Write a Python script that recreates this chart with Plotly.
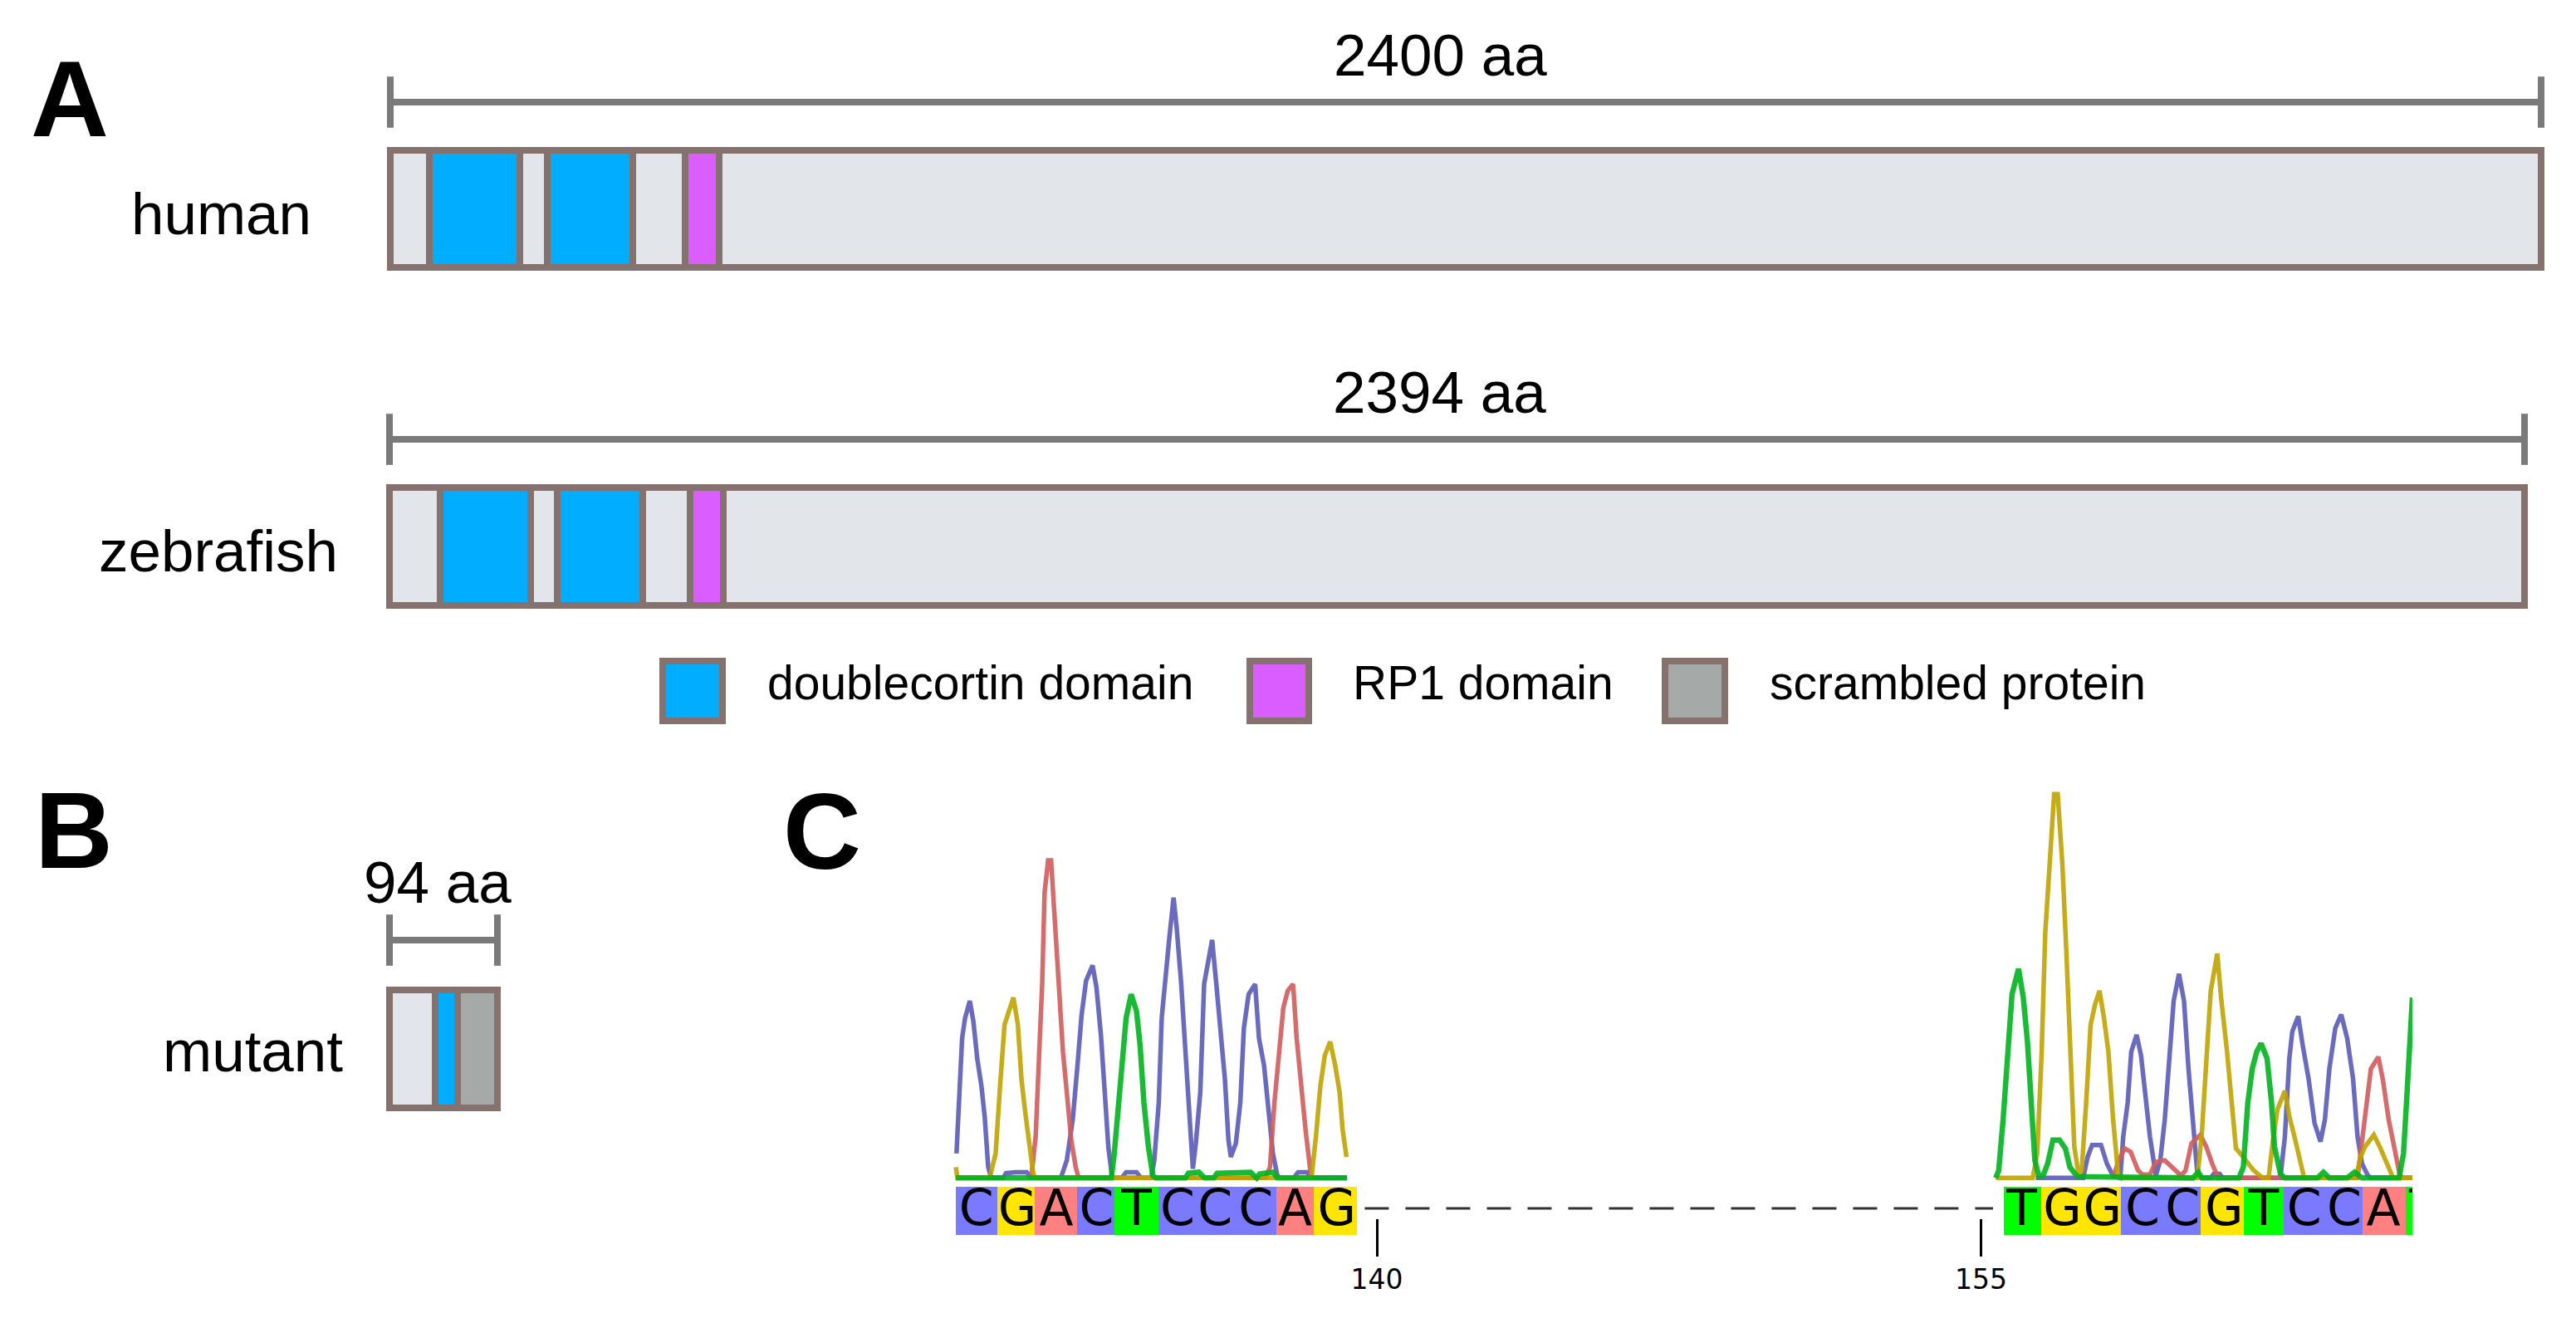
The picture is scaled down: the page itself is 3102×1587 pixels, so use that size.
import plotly.graph_objects as go

W, H = 3102, 1587
PAGE_MARGIN = 8  # browser default body margin
fig_w, fig_h = W - 2 * PAGE_MARGIN, H - 2 * PAGE_MARGIN

# === Protein lengths / domains (aa) ===
human_len = 2400
human_dc_start = [44, 175]
human_dc_end = [145, 271]
human_rp1 = [329, 367]

zebrafish_len = 2394
zebrafish_dc_start = [57, 188]
zebrafish_dc_end = [158, 284]
zebrafish_rp1 = [337, 374]

mutant_len = 94
mutant_dc = [40, 59]
mutant_scrambled = [59, 94]

legend_labels = ['doublecortin domain', 'RP1 domain', 'scrambled protein']

# === Chromatogram, left part (scan, intensity) ===
left_blue_x = [33, 42, 52, 62, 78, 90, 103, 117, 128, 140, 150, 190, 200, 230, 270, 285, 385, 405, 425, 440, 455, 470,
               492, 505, 520, 533, 545, 558, 590, 605, 640, 655, 690, 700, 715, 725, 738, 750, 765, 775, 790, 805, 820,
               830, 840, 855, 868, 880, 895, 908, 922, 938, 950, 958, 975, 990, 1002, 1018, 1040, 1053, 1070, 1085,
               1100, 1115, 1125, 1170, 1185, 1215, 1230, 1350]
left_blue_y = [72, 252, 412, 472, 522, 462, 352, 272, 182, 32, 0, 0, 14, 17, 17, 0, 0, 52, 172, 322, 482, 582,
               627, 562, 422, 252, 92, 0, 0, 17, 17, 0, 0, 52, 222, 472, 612, 702, 827, 742, 582, 372, 122,
               27, 102, 252, 572, 632, 702, 582, 452, 292, 112, 62, 102, 222, 442, 542, 572, 412, 332, 212,
               72, 7, 0, 0, 17, 17, 0, 0]
left_yellow_x = [31, 36, 145, 165, 180, 195, 210, 225, 240, 252, 265, 280, 292, 300, 1230, 1245, 1260, 1275, 1293,
                 1310, 1325, 1335, 1348]
left_yellow_y = [32, 0, 0, 72, 272, 452, 492, 532, 452, 292, 192, 82, 12, 0, 0, 122, 272, 362, 402,
                 332, 252, 142, 62]
left_red_x = [285, 300, 312, 322, 330, 342, 352, 365, 378, 392, 405, 420, 435, 445, 1075, 1090, 1105, 1120, 1135,
              1150, 1168, 1180, 1195, 1210, 1228, 1235]
left_red_y = [0, 122, 372, 572, 842, 937, 937, 752, 552, 372, 252, 112, 32, 0, 0, 32, 222, 372, 502,
              552, 572, 412, 272, 142, 7, 0]
left_green_x = [31, 555, 565, 580, 595, 605, 622, 640, 652, 665, 680, 695, 705, 805, 815, 850, 870, 900, 912, 1025,
                1045, 1055, 1100, 1115, 1350]
left_green_y = [0, 0, 72, 222, 372, 472, 542, 492, 392, 222, 92, 7, 0, 0, 14, 17, 0, 0, 14, 17,
                0, 12, 17, 0, 0]

# === Chromatogram, right part (scan, intensity) ===
right_green_x = [65, 75, 90, 105, 120, 142, 158, 172, 185, 197, 210, 225, 240, 258, 280, 300, 315, 340, 730, 748, 760,
                 885, 900, 915, 930, 945, 960, 980, 995, 1005, 1025, 1040, 1150, 1170, 1190, 1250, 1275, 1300, 1425,
                 1440, 1450, 1460, 1470]
right_green_y = [0, 22, 172, 382, 542, 617, 532, 402, 222, 52, 7, 7, 42, 112, 112, 87, 32, 4, 0, 17, 0,
                 0, 32, 222, 322, 372, 397, 352, 222, 92, 12, 0, 0, 17, 0, 0, 17, 0, 0,
                 72, 222, 372, 532]
right_yellow_x = [65, 190, 205, 220, 232, 245, 262, 274, 290, 303, 318, 330, 345, 355, 370, 385, 400, 415, 430, 445,
                  460, 478, 490, 745, 760, 775, 790, 812, 825, 845, 860, 875, 890, 910, 935, 965, 985, 1000, 1015,
                  1040, 1055, 1075, 1100, 1105, 1280, 1295, 1310, 1340, 1360, 1385, 1405, 1470]
right_yellow_y = [0, 0, 72, 372, 722, 922, 1132, 1132, 922, 672, 322, 92, 7, 22, 222, 452, 512, 552, 472, 372,
                  182, 7, 0, 0, 132, 372, 552, 662, 532, 372, 232, 87, 72, 52, 22, 0, 0, 112, 202,
                  257, 182, 112, 7, 0, 0, 62, 92, 127, 92, 37, 0, 0]
right_blue_x = [200, 360, 375, 390, 420, 440, 460, 485, 495, 510, 522, 540, 555, 570, 585, 605, 620, 635, 650, 665, 683,
                700, 715, 730, 745, 760, 790, 800, 820, 830, 1025, 1040, 1055, 1065, 1085, 1100, 1120, 1140, 1160,
                1175, 1190, 1210, 1230, 1250, 1270, 1285, 1300, 1320, 1330, 1470]
right_blue_y = [0, 0, 62, 97, 97, 42, 7, 0, 122, 222, 372, 422, 362, 242, 122, 7, 52, 172, 372, 522, 602,
                522, 322, 172, 12, 0, 0, 12, 12, 0, 0, 122, 352, 432, 477, 392, 292, 162, 107,
                172, 322, 442, 482, 412, 292, 122, 42, 7, 0, 0]
right_red_x = [460, 480, 500, 520, 545, 560, 585, 605, 635, 660, 690, 705, 725, 755, 775, 795, 815, 1285, 1300, 1315,
               1330, 1355, 1370, 1390, 1410, 1428, 1440, 1470]
right_red_y = [0, 52, 87, 77, 22, 10, 10, 47, 52, 32, 7, 22, 102, 127, 92, 42, 0, 0, 102, 222,
               322, 357, 292, 172, 82, 7, 0, 0]

# === Base calls: tile edges in scan units ===
left_bases = ['C', 'G', 'A', 'C', 'T', 'C', 'C', 'C', 'A', 'G']
left_edges = [31, 171, 297, 440, 566, 715, 847, 978, 1112, 1238, 1382]
left_letter_x = [100, 238, 370, 505, 640, 778, 905, 1042, 1175, 1315]

right_bases = ['T', 'G', 'G', 'C', 'C', 'G', 'T', 'C', 'C', 'A', 'T']
right_edges = [91, 218, 352, 487, 620, 755, 902, 1035, 1170, 1303, 1448, 1580]
right_letter_x = [153, 290, 425, 560, 695, 835, 968, 1105, 1240, 1372, 1510]

# === Sequence positions ===
position_ticks = [140, 155]
deletion_gap = [139.7, 155.3]

# === Colours ===
border = '#85726f'
backbone = '#e2e6ea'
dc_blue = '#00adff'
rp1_pink = '#d95dff'
scrambled_grey = '#a5aaa8'
scale_grey = '#7a7a7a'
base_fill = {'A': '#ff8080', 'C': '#7a7aff', 'G': '#ffe600', 'T': '#00ff00'}
trace_col = {'A': '#d25c5c', 'C': '#5a5ab8', 'G': '#c0a400', 'T': '#00b41e'}


def frac(px):
    return (px - PAGE_MARGIN) / fig_w


def protein_axis(left, right, length, pad=12):
    # pad keeps the thick end borders inside the subplot clip
    per_px = length / (right - left)
    return dict(domain=[frac(left - pad), frac(right + pad)],
                range=[-pad * per_px, length + pad * per_px],
                anchor='free', position=0, **hidden)


def add_box(fig, start, end, y_mid, y_size, color, xa):
    fig.add_trace(go.Bar(
        x=[end - start], base=[start], y=[y_mid], width=[y_size], orientation='h',
        marker=dict(color=color, line=dict(color=border, width=8)),
        xaxis=xa, yaxis='y', cliponaxis=False, showlegend=False, hoverinfo='skip'
    ))


def add_scale(fig, length, y_mid, cap, xa):
    fig.add_trace(go.Scatter(
        x=[0, length], y=[y_mid, y_mid], mode='lines+markers',
        line=dict(color=scale_grey, width=8),
        marker=dict(symbol='line-ns', size=cap, color=scale_grey, line=dict(color=scale_grey, width=8)),
        xaxis=xa, yaxis='y', cliponaxis=False, showlegend=False, hoverinfo='skip'
    ))


fig = go.Figure()

# === Panel A and B: proteins ===
add_box(fig, 0, human_len, 251.5, 141, backbone, 'x2')
add_box(fig, human_dc_start[0], human_dc_end[0], 251.5, 141, dc_blue, 'x2')
add_box(fig, human_dc_start[1], human_dc_end[1], 251.5, 141, dc_blue, 'x2')
add_box(fig, human_rp1[0], human_rp1[1], 251.5, 141, rp1_pink, 'x2')
add_scale(fig, human_len, 123, 44, 'x2')

add_box(fig, 0, zebrafish_len, 658, 142, backbone, 'x3')
add_box(fig, zebrafish_dc_start[0], zebrafish_dc_end[0], 658, 142, dc_blue, 'x3')
add_box(fig, zebrafish_dc_start[1], zebrafish_dc_end[1], 658, 142, dc_blue, 'x3')
add_box(fig, zebrafish_rp1[0], zebrafish_rp1[1], 658, 142, rp1_pink, 'x3')
add_scale(fig, zebrafish_len, 529, 44, 'x3')

add_box(fig, 0, mutant_len, 1263, 142, backbone, 'x4')
add_box(fig, mutant_dc[0], mutant_dc[1], 1263, 142, dc_blue, 'x4')
add_box(fig, mutant_scrambled[0], mutant_scrambled[1], 1263, 142, scrambled_grey, 'x4')
add_scale(fig, mutant_len, 1132, 44, 'x4')

# legend swatches, page pixels
add_box(fig, 798, 870, 832, 72, dc_blue, 'x')
add_box(fig, 1505, 1576, 832, 72, rp1_pink, 'x')
add_box(fig, 2005, 2077, 832, 72, scrambled_grey, 'x')


# === Panel C: chromatogram ===
def add_tiles(fig, bases, edges, letter_x, xa):
    for i, b in enumerate(bases):
        fig.add_trace(go.Bar(
            x=[(edges[i] + edges[i + 1]) / 2], y=[143], base=[-168], width=[edges[i + 1] - edges[i]],
            marker=dict(color=base_fill[b], line=dict(width=0)),
            xaxis=xa, yaxis='y2', showlegend=False, hoverinfo='skip'
        ))
    fig.add_trace(go.Scatter(
        x=letter_x, y=[-103] * len(bases), mode='text', text=bases,
        textfont=dict(family='DejaVu Sans', size=60, color='black'),
        xaxis=xa, yaxis='y2', showlegend=False, hoverinfo='skip'
    ))


def add_peaks(fig, x, y, base, xa, width=5.5):
    fig.add_trace(go.Scatter(
        x=x, y=y, mode='lines', line=dict(color=trace_col[base], width=width),
        opacity=0.9,
        xaxis=xa, yaxis='y2', showlegend=False, hoverinfo='skip'
    ))


add_tiles(fig, left_bases, left_edges, left_letter_x, 'x5')
add_peaks(fig, left_blue_x, left_blue_y, 'C', 'x5')
add_peaks(fig, left_red_x, left_red_y, 'A', 'x5')
add_peaks(fig, left_yellow_x, left_yellow_y, 'G', 'x5')
add_peaks(fig, left_green_x, left_green_y, 'T', 'x5', width=6.5)

add_tiles(fig, right_bases, right_edges, right_letter_x, 'x6')
add_peaks(fig, right_blue_x, right_blue_y, 'C', 'x6')
add_peaks(fig, right_red_x, right_red_y, 'A', 'x6')
add_peaks(fig, right_yellow_x, right_yellow_y, 'G', 'x6')
add_peaks(fig, right_green_x, right_green_y, 'T', 'x6', width=6.5)

fig.add_trace(go.Scatter(
    x=deletion_gap, y=[1455, 1455], mode='lines',
    line=dict(color='#333333', width=3, dash='29px,20px'),
    xaxis='x7', yaxis='y', showlegend=False, hoverinfo='skip'
))

# === Text ===
text_items = [
    ('A', 36, 166, 130, True, 'left'),
    ('B', 41, 1047, 130, True, 'left'),
    ('C', 942, 1048, 130, True, 'left'),
    ('2400 aa', 1734, 92, 71, False, 'center'),
    ('2394 aa', 1733, 498, 71, False, 'center'),
    ('94 aa', 527, 1088, 71, False, 'center'),
    ('human', 266, 283, 71, False, 'center'),
    ('zebrafish', 263, 689, 71, False, 'center'),
    ('mutant', 304, 1291, 71, False, 'center'),
    (legend_labels[0], 923, 843, 57, False, 'left'),
    (legend_labels[1], 1628, 843, 57, False, 'left'),
    (legend_labels[2], 2130, 843, 57, False, 'left'),
]
annotations = []
for label, x, baseline, size, bold, anchor in text_items:
    annotations.append(dict(
        x=x, y=baseline - 0.36 * size, xref='x', yref='y', text=f'<b>{label}</b>' if bold else label,
        showarrow=False, xanchor=anchor, yanchor='middle', borderpad=0,
        font=dict(family='Liberation Sans', size=size, color='black')
    ))

hidden = dict(visible=False, showgrid=False, zeroline=False, fixedrange=True)
pos_left, pos_right = 1100, 3000
px_per_base = 48.5
chrom_bottom = H - PAGE_MARGIN

fig.update_layout(
    width=fig_w, height=fig_h,
    margin=dict(l=0, r=0, t=0, b=0),
    paper_bgcolor='white', plot_bgcolor='rgba(0,0,0,0)',
    barmode='overlay', bargap=0,
    showlegend=False,
    annotations=annotations,
    xaxis=dict(domain=[0, 1], range=[PAGE_MARGIN, W - PAGE_MARGIN], **hidden),
    yaxis=dict(domain=[0, 1], range=[H - PAGE_MARGIN, PAGE_MARGIN], **hidden),
    xaxis2=protein_axis(470, 3060, human_len),
    xaxis3=protein_axis(469, 3040, zebrafish_len),
    xaxis4=protein_axis(469, 599, mutant_len),
    xaxis5=dict(domain=[frac(1140), frac(1700)], range=[0, 1568], anchor='y2', **hidden),
    xaxis6=dict(domain=[frac(2380), frac(2905)], range=[0, 1470], anchor='y2', **hidden),
    yaxis2=dict(domain=[0, (chrom_bottom - 940) / fig_h], range=[1172 - (chrom_bottom - 940) * 2.45, 1172],
                anchor='x5', **hidden),
    xaxis7=dict(
        domain=[frac(pos_left), frac(pos_right)],
        range=[140 + (pos_left - 1658) / px_per_base, 140 + (pos_right - 1658) / px_per_base],
        anchor='free', position=1 - (1466.5 - PAGE_MARGIN) / fig_h, side='bottom',
        tickmode='array', tickvals=position_ticks, ticktext=[str(t) for t in position_ticks],
        ticks='outside', ticklen=45, tickwidth=3, tickcolor='black',
        tickfont=dict(family='DejaVu Sans', size=33, color='black'),
        showline=False, showgrid=False, zeroline=False, fixedrange=True
    ),
)

fig.write_html("out.html")
